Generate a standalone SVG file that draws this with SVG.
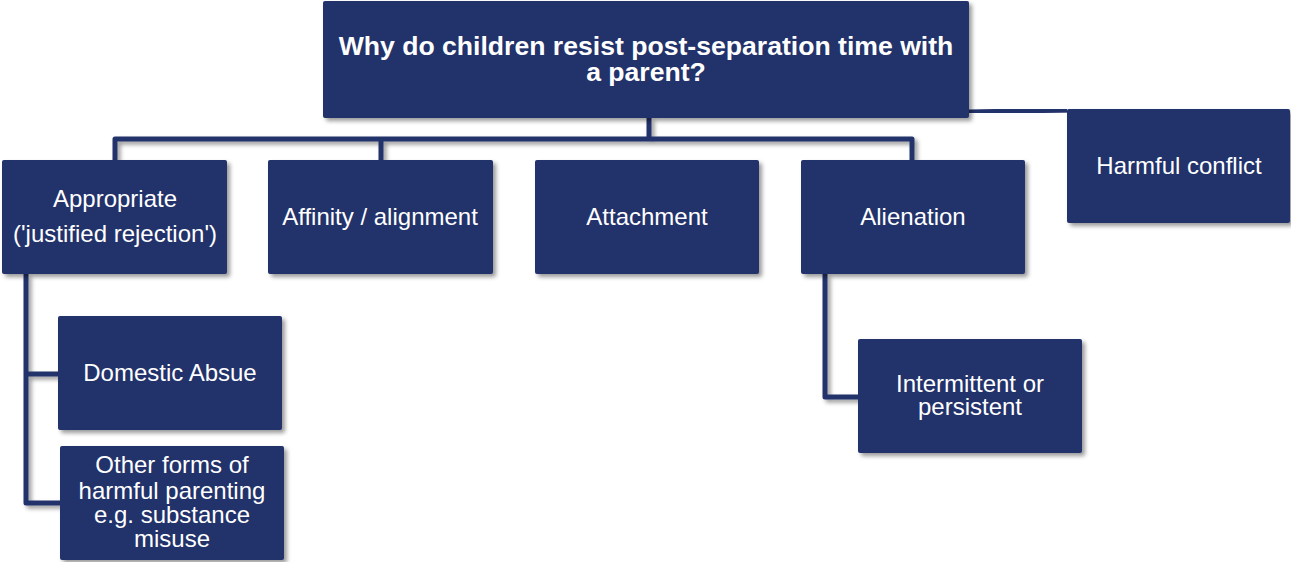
<svg xmlns="http://www.w3.org/2000/svg" width="1291" height="562" viewBox="0 0 1291 562">
<defs>
<filter id="sh" x="-10%" y="-10%" width="130%" height="140%">
<feDropShadow dx="3" dy="3" stdDeviation="2" flood-color="#000" flood-opacity="0.4"/>
</filter>
<style>
.box{fill:#24306b;filter:url(#sh)}
.t{font-family:"Liberation Sans",Arial,sans-serif;font-size:24px;fill:#fff;text-anchor:middle}
.tb{font-family:"Liberation Sans",Arial,sans-serif;font-size:26.6px;font-weight:bold;fill:#fff;text-anchor:middle}
.c{fill:none;stroke:#24306b;stroke-width:5;stroke-linejoin:round;filter:url(#sh)}
</style>
</defs>
<g id="connectors">
<path class="c" d="M649 118 V139 M115 160 V139 H912 V160 M381 139 V160"/>
<path class="c" d="M969 112 L1067 110"/>
<path class="c" d="M26 274 V503 H60 M26 374 H58"/>
<path class="c" d="M825 274 V397 H858"/>
</g>
<g id="root">
<rect class="box" x="323" y="1" width="646" height="117" rx="2"/>
<text class="tb" x="646" y="55">Why do children resist post-separation time with</text>
<text class="tb" x="646" y="81">a parent?</text>
</g>
<g id="appropriate">
<rect class="box" x="2" y="160" width="225" height="114" rx="2"/>
<text class="t" x="115" y="207">Appropriate</text>
<text class="t" x="115" y="242">('justified rejection')</text>
</g>
<g id="affinity">
<rect class="box" x="268" y="160" width="225" height="114" rx="2"/>
<text class="t" x="380" y="225">Affinity / alignment</text>
</g>
<g id="attachment">
<rect class="box" x="535" y="160" width="224" height="114" rx="2"/>
<text class="t" x="647" y="225">Attachment</text>
</g>
<g id="alienation">
<rect class="box" x="801" y="160" width="224" height="114" rx="2"/>
<text class="t" x="913" y="225">Alienation</text>
</g>
<g id="harmful-conflict">
<rect class="box" x="1067" y="109" width="223" height="114" rx="2"/>
<text class="t" x="1179" y="174">Harmful conflict</text>
</g>
<g id="domestic-abuse">
<rect class="box" x="58" y="316" width="224" height="114" rx="2"/>
<text class="t" x="170" y="381">Domestic Absue</text>
</g>
<g id="other-forms">
<rect class="box" x="60" y="446" width="224" height="114" rx="2"/>
<text class="t" x="172" y="473">Other forms of</text>
<text class="t" x="172" y="499">harmful parenting</text>
<text class="t" x="172" y="523">e.g. substance</text>
<text class="t" x="172" y="547">misuse</text>
</g>
<g id="intermittent">
<rect class="box" x="858" y="339" width="224" height="114" rx="2"/>
<text class="t" x="970" y="392">Intermittent or</text>
<text class="t" x="970" y="415">persistent</text>
</g>
</svg>
